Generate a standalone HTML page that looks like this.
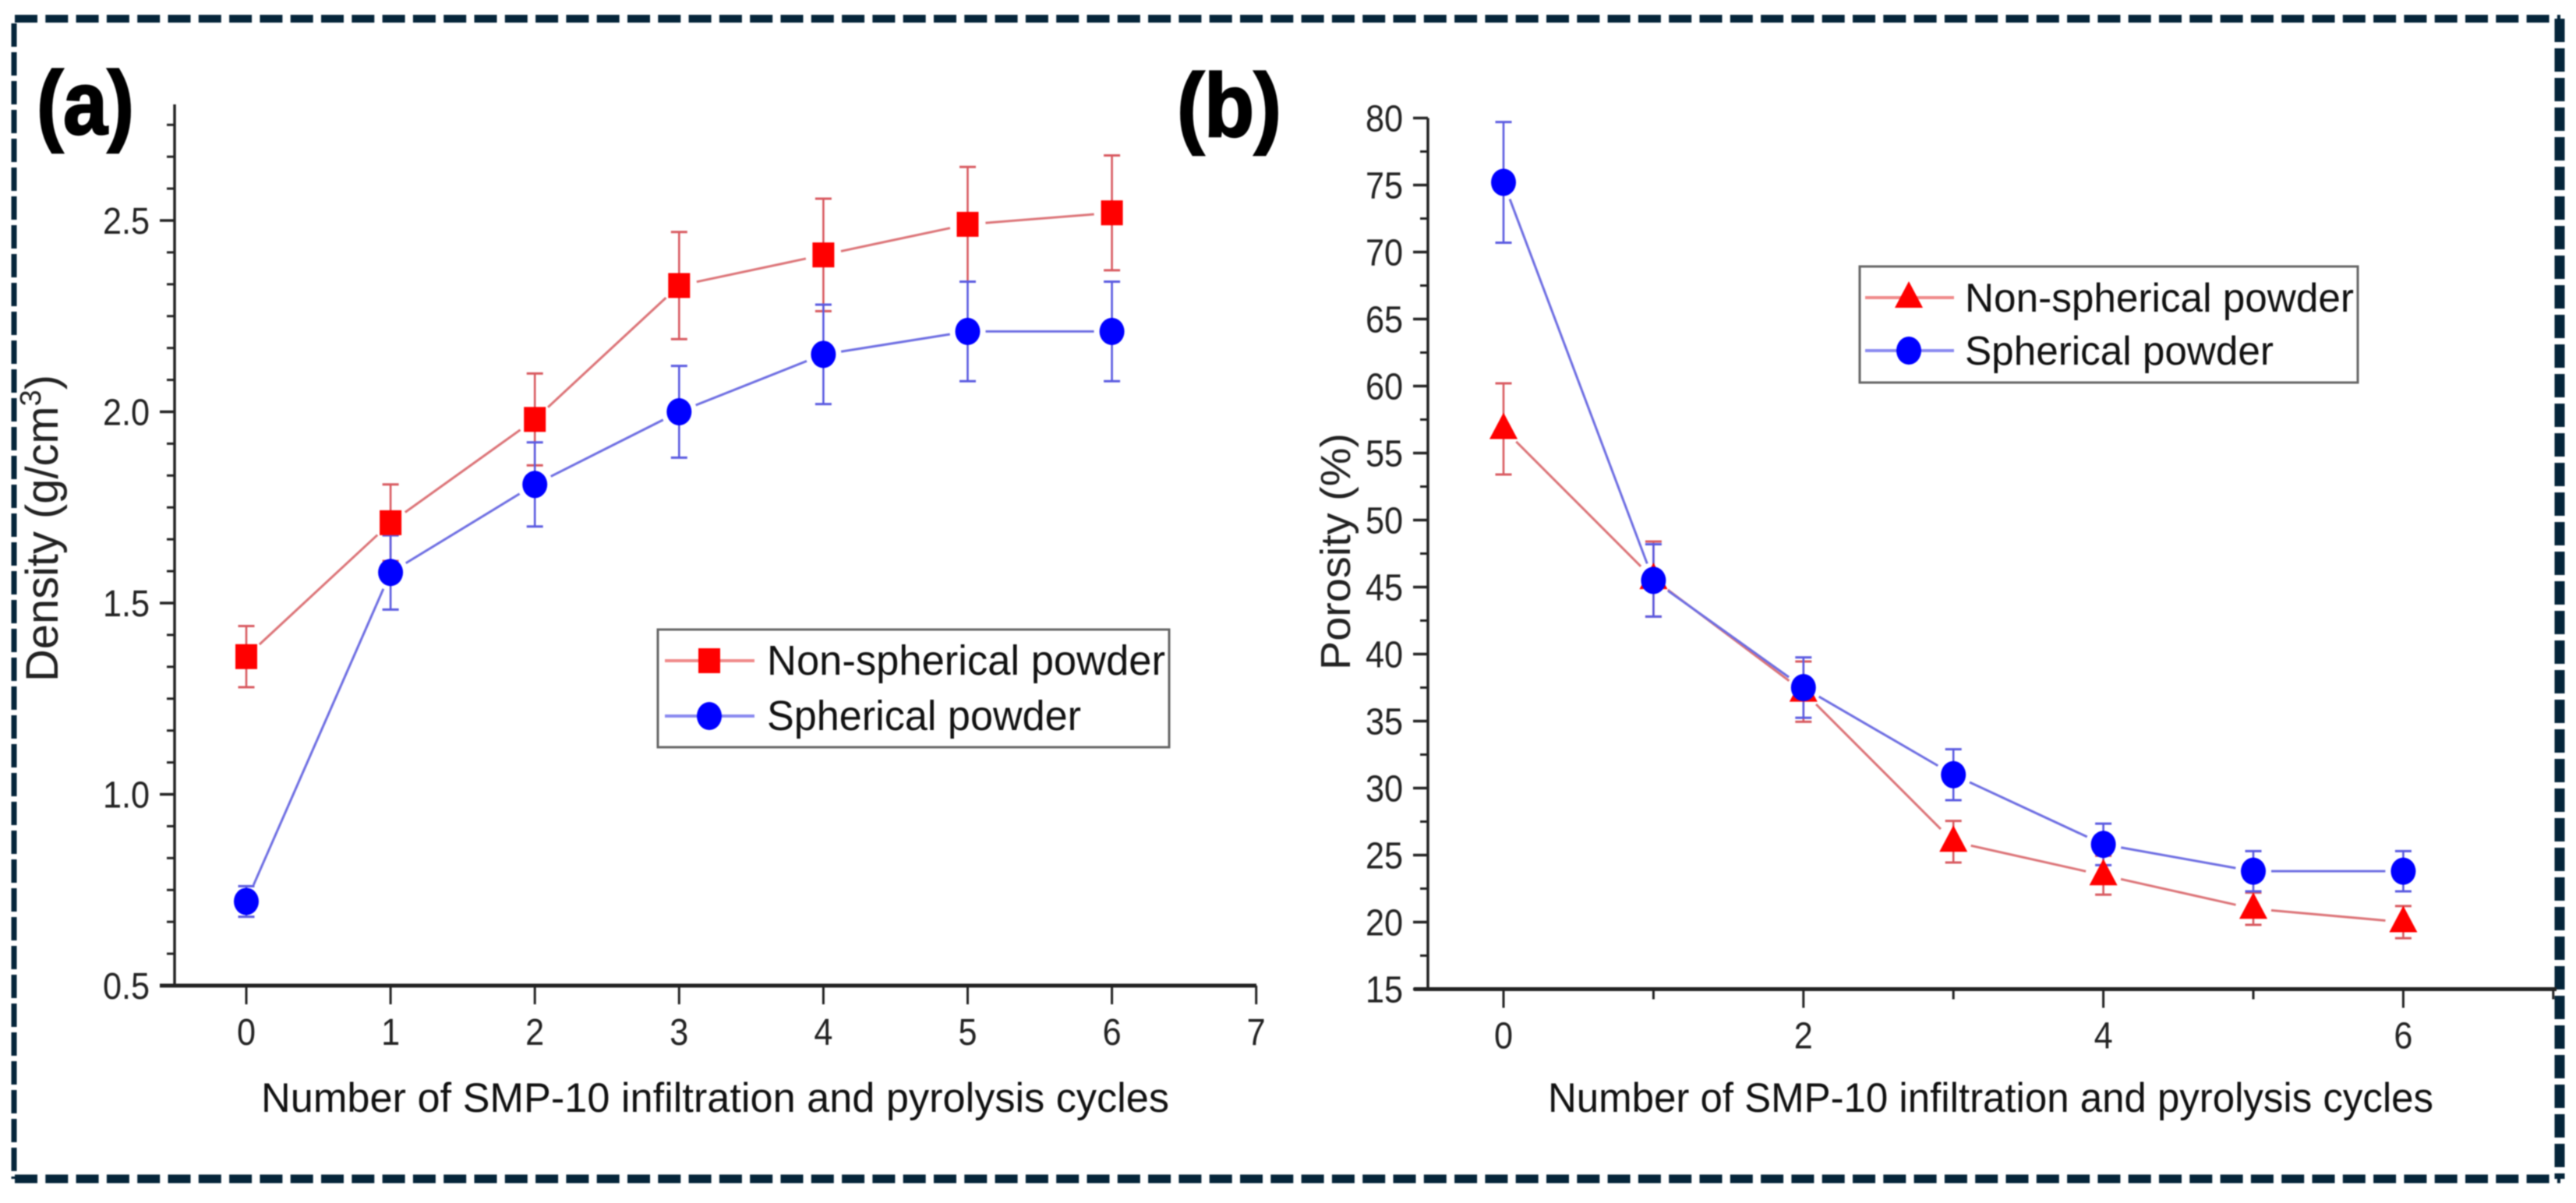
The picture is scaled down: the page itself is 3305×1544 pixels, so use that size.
<!DOCTYPE html>
<html lang="en">
<head>
<meta charset="utf-8">
<title>Density and porosity vs. SMP-10 infiltration cycles</title>
<style>
html,body{margin:0;padding:0;background:#fff;width:3305px;height:1544px;overflow:hidden}
svg{display:block;font-family:"Liberation Sans",sans-serif;filter:blur(.9px)}
</style>
</head>
<body>
<svg id="figure" xmlns="http://www.w3.org/2000/svg" width="3305" height="1544" viewBox="0 0 3305 1544">
  <rect width="3305" height="1544" fill="#fff"/>
  <g stroke="#05253a" fill="none">
    <line x1="19" y1="24" x2="3285" y2="24" stroke-width="10" stroke-dasharray="29 10.3"/>
    <line x1="19" y1="1513" x2="3285" y2="1513" stroke-width="11" stroke-dasharray="29 10.3"/>
    <line x1="18" y1="30" x2="18" y2="1513" stroke-width="7" stroke-dasharray="30 7"/>
    <line x1="3284" y1="24" x2="3284" y2="1513" stroke-width="13" stroke-dasharray="30 8"/>
  </g>

  <text x="47" y="172" font-size="115" font-weight="700" stroke="#000" stroke-width="2.5" textLength="125" lengthAdjust="spacingAndGlyphs">(a)</text>
  <text x="1510" y="175" font-size="115" font-weight="700" stroke="#000" stroke-width="2.5" textLength="134" lengthAdjust="spacingAndGlyphs">(b)</text>

  <g id="chart-a"></g>
  <g id="chart-b"></g>

  <text transform="translate(74,875) rotate(-90)" font-size="58" fill="#222" textLength="394" lengthAdjust="spacingAndGlyphs">Density (g/cm<tspan dy="-22" font-size="38">3</tspan><tspan dy="22">)</tspan></text>
  <text transform="translate(1732,860) rotate(-90)" font-size="54" fill="#222" textLength="304" lengthAdjust="spacingAndGlyphs">Porosity (%)</text>
  <text x="335" y="1427" font-size="53" fill="#111" textLength="1165" lengthAdjust="spacingAndGlyphs">Number of SMP-10 infiltration and pyrolysis cycles</text>
  <text x="1986" y="1427" font-size="53" fill="#111" textLength="1136" lengthAdjust="spacingAndGlyphs">Number of SMP-10 infiltration and pyrolysis cycles</text>

  <g>
    <rect x="844" y="808" width="656" height="151" fill="#fff" stroke="#666" stroke-width="3"/>
    <line x1="853" y1="848" x2="968" y2="848" stroke="#f08a8a" stroke-width="4"/>
    <rect x="896" y="832" width="28" height="32" fill="#f00"/>
    <text x="984" y="866" font-size="54" fill="#111" textLength="511" lengthAdjust="spacingAndGlyphs">Non-spherical powder</text>
    <line x1="853" y1="919" x2="968" y2="919" stroke="#8a8af0" stroke-width="4"/>
    <ellipse cx="910" cy="919" rx="16" ry="18" fill="#00f"/>
    <text x="984" y="937" font-size="54" fill="#111" textLength="403" lengthAdjust="spacingAndGlyphs">Spherical powder</text>
  </g>

  <g>
    <rect x="2386" y="342" width="639" height="149" fill="#fff" stroke="#666" stroke-width="3"/>
    <line x1="2393" y1="382" x2="2507" y2="382" stroke="#f08a8a" stroke-width="4"/>
    <polygon points="2449,361 2467,395 2431,395" fill="#f00"/>
    <text x="2521" y="400" font-size="52" fill="#111" textLength="499" lengthAdjust="spacingAndGlyphs">Non-spherical powder</text>
    <line x1="2393" y1="450" x2="2507" y2="450" stroke="#8a8af0" stroke-width="4"/>
    <ellipse cx="2449" cy="450" rx="16" ry="18" fill="#00f"/>
    <text x="2521" y="468" font-size="52" fill="#111" textLength="396" lengthAdjust="spacingAndGlyphs">Spherical powder</text>
  </g>
</svg>

<script>
// Panel (a): density
const densityCycles = [0, 1, 2, 3, 4, 5, 6];
const densityNonSpherical = [1.36, 1.71, 1.98, 2.33, 2.41, 2.49, 2.52];
const densityNonSphericalErr = [0.08, 0.10, 0.12, 0.14, 0.147, 0.15, 0.15];
const densitySpherical = [0.72, 1.58, 1.81, 2.00, 2.15, 2.21, 2.21];
const densitySphericalErr = [0.04, 0.097, 0.11, 0.12, 0.13, 0.13, 0.13];
const densityXTicks = [0, 1, 2, 3, 4, 5, 6, 7];
const densityYTicks = ['0.5', '1.0', '1.5', '2.0', '2.5'];

// Panel (b): porosity
const porosityCycles = [0, 1, 2, 3, 4, 5, 6];
const porosityNonSpherical = [56.8, 45.6, 37.2, 26, 23.5, 21, 20];
const porosityNonSphericalErr = [3.4, 2.8, 2.25, 1.55, 1.45, 1.2, 1.2];
const porositySpherical = [75.2, 45.5, 37.5, 31, 25.8, 23.8, 23.8];
const porositySphericalErr = [4.5, 2.7, 2.25, 1.9, 1.55, 1.5, 1.5];
const porosityXTicks = [0, 1, 2, 3, 4, 5, 6, 7];
const porosityXLabels = ['0', '', '2', '', '4', '', '6', ''];
const porosityYTicks = ['15', '20', '25', '30', '35', '40', '45', '50', '55', '60', '65', '70', '75', '80'];

const NS = 'http://www.w3.org/2000/svg';
const RED_LINE = '#dc7478';
const BLUE_LINE = '#6e6ee2';
const RED_ERR = '#d85a60';
const BLUE_ERR = '#5a5ae0';

function xA(v) { return 316 + 185.1 * v; }
function yA(v) { return 1265 - (v - 0.5) * 491; }
function xB(v) { return 1929 + 192.4 * v; }
function yB(v) { return 1269.5 - (v - 15) * 17.2; }

function svgEl(tag, attrs, parent) {
  const el = document.createElementNS(NS, tag);
  for (const k in attrs) el.setAttribute(k, attrs[k]);
  parent.appendChild(el);
  return el;
}

function drawAxes(parent, xFn, yFn, xTicks, xLabels, yTicks, yMinorPerInterval, yTop, xLeft, xRight, oddMinor, labelRight) {
  const yBase = yFn(parseFloat(yTicks[0]));
  const xAxis = svgEl('line', {x1: xLeft, y1: yBase, x2: xRight, y2: yBase, stroke: '#222', 'stroke-width': 5}, parent);
  
  
  const axisX = xFn(0) - (oddMinor ? 97 : 92);
  const yAxis = svgEl('line', {x1: axisX, y1: yTop, x2: axisX, y2: yBase, stroke: '#222', 'stroke-width': 3.5}, parent);
  
  

  xTicks.forEach(function (t, i) {
    const isMinor = oddMinor && i % 2 === 1;
    const tick = svgEl('line', {x1: xFn(t), y1: yBase, x2: xFn(t), y2: yBase + (isMinor ? 13 : 24), stroke: '#222', 'stroke-width': 3}, parent);
    
    
    if (xLabels[i] !== '' && xFn(t) < 3200) {
      const lab = svgEl('text', {transform: 'translate(' + xFn(t) + ',' + (yBase + 76) + ') scale(0.9,1)', 'font-size': 48, 'text-anchor': 'middle', fill: '#222'}, parent);
      lab.textContent = xLabels[i];
      
      
    }
  });

  yTicks.forEach(function (label, i) {
    const v = parseFloat(label);
    const tick = svgEl('line', {x1: axisX - 19, y1: yFn(v), x2: axisX, y2: yFn(v), stroke: '#222', 'stroke-width': 3.5}, parent);
    
    
    const lab = svgEl('text', {transform: 'translate(' + labelRight + ',' + (yFn(v) + 17) + ') scale(0.9,1)', 'font-size': 48, 'text-anchor': 'end', fill: '#222'}, parent);
    lab.textContent = label;
    
    
    const step = i + 1 < yTicks.length ? parseFloat(yTicks[i + 1]) - v : parseFloat(yTicks[1]) - parseFloat(yTicks[0]);
    for (let m = 1; m < yMinorPerInterval; m++) {
      const mv = v + step * m / yMinorPerInterval;
      if (yFn(mv) < yTop) continue;
      const minor = svgEl('line', {x1: axisX - 10, y1: yFn(mv), x2: axisX, y2: yFn(mv), stroke: '#222', 'stroke-width': 3}, parent);
      
      
    }
  });
}

function drawSeries(parent, name, xs, vals, errs, xFn, yFn, lineColor, errColor) {
  const g = svgEl('g', {}, parent);
  
  
  const gap = 23;
  for (let i = 0; i + 1 < xs.length; i++) {
    const x1 = xFn(xs[i]), y1 = yFn(vals[i]), x2 = xFn(xs[i + 1]), y2 = yFn(vals[i + 1]);
    const d = Math.hypot(x2 - x1, y2 - y1);
    if (d <= 2 * gap) continue;
    const ux = (x2 - x1) / d, uy = (y2 - y1) / d;
    const seg = svgEl('line', {x1: x1 + ux * gap, y1: y1 + uy * gap, x2: x2 - ux * gap, y2: y2 - uy * gap, stroke: lineColor, 'stroke-width': 3}, g);
    
    
  }
  xs.forEach(function (c, i) {
    const x = xFn(c), top = yFn(vals[i] + errs[i]), bot = yFn(vals[i] - errs[i]);
    const stem = svgEl('line', {x1: x, y1: top, x2: x, y2: bot, stroke: errColor, 'stroke-width': 2.6}, g);
    
    
    const capTop = svgEl('line', {x1: x - 10.5, y1: top, x2: x + 10.5, y2: top, stroke: errColor, 'stroke-width': 3}, g);
    
    
    const capBot = svgEl('line', {x1: x - 10.5, y1: bot, x2: x + 10.5, y2: bot, stroke: errColor, 'stroke-width': 3}, g);
    
    
  });
}

function drawSquares(parent, xs, vals, xFn, yFn) {
  xs.forEach(function (c, i) {
    const m = svgEl('rect', {x: xFn(c) - 14, y: yFn(vals[i]) - 16, width: 28, height: 32, fill: '#f00'}, parent);
    
    
  });
}
function drawTriangles(parent, xs, vals, xFn, yFn) {
  xs.forEach(function (c, i) {
    const x = xFn(c), y = yFn(vals[i]);
    const m = svgEl('polygon', {points: (x) + ',' + (y - 21) + ' ' + (x + 18) + ',' + (y + 13) + ' ' + (x - 18) + ',' + (y + 13), fill: '#f00'}, parent);
    
    
  });
}
function drawCircles(parent, xs, vals, xFn, yFn) {
  xs.forEach(function (c, i) {
    const m = svgEl('ellipse', {cx: xFn(c), cy: yFn(vals[i]), rx: 16, ry: 17.5, fill: '#00f'}, parent);
    
    
  });
}

const chartA = document.getElementById('chart-a');
drawAxes(chartA, xA, yA, densityXTicks, densityXTicks.map(String), densityYTicks, 6, 134, 205, 1612, false, 192);
drawSeries(chartA, 'series-non-spherical', densityCycles, densityNonSpherical, densityNonSphericalErr, xA, yA, RED_LINE, RED_ERR);
drawSeries(chartA, 'series-spherical', densityCycles, densitySpherical, densitySphericalErr, xA, yA, BLUE_LINE, BLUE_ERR);
drawSquares(chartA, densityCycles, densityNonSpherical, xA, yA);
drawCircles(chartA, densityCycles, densitySpherical, xA, yA);

const chartB = document.getElementById('chart-b');
drawAxes(chartB, xB, yB, porosityXTicks, porosityXLabels, porosityYTicks, 2, 151.5, 1814, 3280, true, 1800);
drawSeries(chartB, 'series-non-spherical', porosityCycles, porosityNonSpherical, porosityNonSphericalErr, xB, yB, RED_LINE, RED_ERR);
drawSeries(chartB, 'series-spherical', porosityCycles, porositySpherical, porositySphericalErr, xB, yB, BLUE_LINE, BLUE_ERR);
drawTriangles(chartB, porosityCycles, porosityNonSpherical, xB, yB);
drawCircles(chartB, porosityCycles, porositySpherical, xB, yB);
</script>
</body>
</html>
